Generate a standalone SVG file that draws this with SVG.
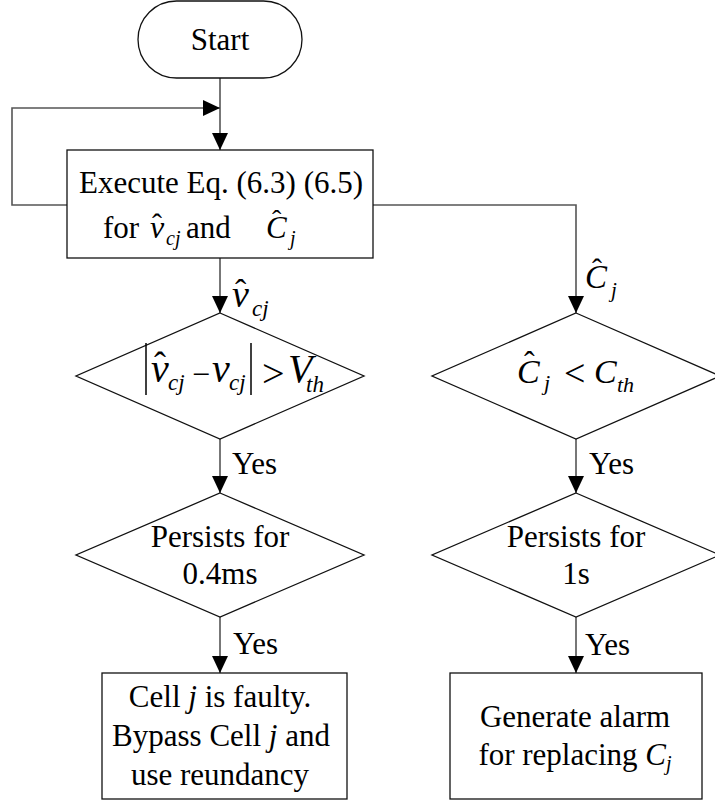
<svg xmlns="http://www.w3.org/2000/svg" width="715" height="804" viewBox="0 0 715 804" font-family="'Liberation Serif', 'Times New Roman', Tinos, 'DejaVu Serif', serif">
  <style>
    .shape { fill: #fff; stroke: #111; stroke-width: 1.3; }
    .conn { fill: none; stroke: #555; stroke-width: 1.6; }
    .t { font-family: 'Liberation Serif', 'Times New Roman', Tinos, 'DejaVu Serif', serif; font-size: 31px; fill: #000; }
    .c { text-anchor: middle; }
    .i { font-style: italic; }
    .bar { stroke: #000; stroke-width: 1.5; }
  </style>
  <defs>
    <marker id="arrow" viewBox="0 0 17 16" refX="17" refY="8" markerWidth="17" markerHeight="16" markerUnits="userSpaceOnUse" orient="auto">
      <path d="M0,0 L17,8 L0,16 Z" fill="#000"/>
    </marker>
  </defs>

  <rect width="715" height="804" fill="#fff"/>

  <!-- connectors -->
  <g id="connectors">
    <line class="conn" x1="220" y1="78" x2="220" y2="150" marker-end="url(#arrow)"/>
    <polyline class="conn" points="67,205 12,205 12,108 220,108" marker-end="url(#arrow)"/>
    <line class="conn" x1="220" y1="258" x2="220" y2="313" marker-end="url(#arrow)"/>
    <polyline class="conn" points="373,205 576,205 576,313" marker-end="url(#arrow)"/>
    <line class="conn" x1="220" y1="439" x2="220" y2="493" marker-end="url(#arrow)"/>
    <line class="conn" x1="220" y1="617" x2="220" y2="673" marker-end="url(#arrow)"/>
    <line class="conn" x1="576" y1="439" x2="576" y2="493" marker-end="url(#arrow)"/>
    <line class="conn" x1="576" y1="617" x2="576" y2="673" marker-end="url(#arrow)"/>

    <!-- edge labels -->
    <text class="t" id="label-vhat"><tspan class="i" x="232" y="307" font-size="38">v</tspan><tspan x="235" y="303" font-size="34">ˆ</tspan><tspan class="i" x="252" y="316" font-size="23">cj</tspan></text>
    <text class="t" id="label-chat"><tspan class="i" x="585" y="288" font-size="33">C</tspan><tspan x="592" y="279" font-size="30">ˆ</tspan><tspan class="i" x="611" y="297" font-size="21">j</tspan></text>
    <text class="t" x="232" y="474">Yes</text>
    <text class="t" x="233" y="654">Yes</text>
    <text class="t" x="589" y="474">Yes</text>
    <text class="t" x="585" y="655">Yes</text>
  </g>

  <!-- start terminal -->
  <g id="start">
    <rect class="shape" x="138" y="1" width="164" height="77" rx="38.5" ry="38.5"/>
    <text class="t c" x="220" y="50">Start</text>
  </g>

  <!-- estimation step -->
  <g id="execute">
    <rect class="shape" x="67" y="150" width="306" height="108"/>
    <text class="t c" x="221" y="193">Execute Eq. (6.3) (6.5)</text>
    <text class="t"><tspan x="103" y="238">for</tspan><tspan class="i" x="150" y="238" font-size="32">v</tspan><tspan x="152" y="234" font-size="30">ˆ</tspan><tspan class="i" x="166" y="245" font-size="20">cj</tspan><tspan x="186" y="238">and</tspan><tspan class="i" x="266" y="238">C</tspan><tspan x="272" y="229" font-size="28">ˆ</tspan><tspan class="i" x="290" y="245" font-size="20">j</tspan></text>
  </g>

  <!-- voltage residual check -->
  <g id="check-voltage">
    <polygon class="shape" points="220,313 364,376 220,439 76,376"/>
    <line class="bar" x1="146" y1="343" x2="146" y2="395"/>
    <line class="bar" x1="251" y1="343" x2="251" y2="395"/>
    <text class="t"><tspan class="i" x="151" y="382" font-size="40">v</tspan><tspan x="154" y="377" font-size="36">ˆ</tspan><tspan class="i" x="168" y="390" font-size="23">cj</tspan><tspan x="192" y="385" font-size="32">−</tspan><tspan class="i" x="212" y="382" font-size="40">v</tspan><tspan class="i" x="229" y="390" font-size="23">cj</tspan><tspan x="262" y="387" font-size="40">&gt;</tspan><tspan class="i" x="288" y="382" font-size="40">V</tspan><tspan class="i" x="306" y="392" font-size="23">th</tspan></text>
  </g>

  <!-- capacitance check -->
  <g id="check-capacitance">
    <polygon class="shape" points="576,313 720,376 576,439 432,376"/>
    <text class="t"><tspan class="i" x="517" y="383" font-size="34">C</tspan><tspan x="524" y="373" font-size="32">ˆ</tspan><tspan class="i" x="544" y="390" font-size="22">j</tspan><tspan x="564" y="386" font-size="38">&lt;</tspan><tspan class="i" x="594" y="383" font-size="34">C</tspan><tspan class="i" x="617" y="392" font-size="22">th</tspan></text>
  </g>

  <!-- persistence checks -->
  <g id="persist-voltage">
    <polygon class="shape" points="220,493 364,555 220,617 76,555"/>
    <text class="t c" x="220" y="547">Persists for</text>
    <text class="t c" x="220" y="584">0.4ms</text>
  </g>
  <g id="persist-capacitance">
    <polygon class="shape" points="576,493 720,555 576,617 432,555"/>
    <text class="t c" x="576" y="547">Persists for</text>
    <text class="t c" x="576" y="584">1s</text>
  </g>

  <!-- actions -->
  <g id="bypass-cell">
    <rect class="shape" x="102" y="673" width="245" height="126"/>
    <text class="t c" x="220" y="707">Cell <tspan class="i">j</tspan> is faulty.</text>
    <text class="t c" x="221" y="746">Bypass Cell <tspan class="i">j</tspan> and</text>
    <text class="t c" x="220" y="785">use reundancy</text>
  </g>
  <g id="alarm">
    <rect class="shape" x="450" y="673" width="252" height="126"/>
    <text class="t c" x="575" y="727">Generate alarm</text>
    <text class="t c" x="575" y="765">for replacing <tspan class="i">C</tspan><tspan class="i" font-size="20" dy="5">j</tspan></text>
  </g>
</svg>
